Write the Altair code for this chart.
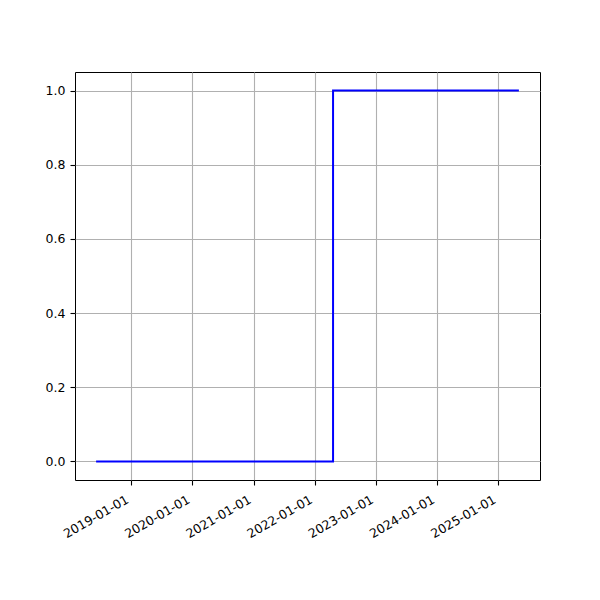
import altair as alt
import pandas as pd

dates = ["2018-06-06", "2022-04-20", "2025-05-03"]
values = [0, 1, 1]
tick_years = [2019, 2020, 2021, 2022, 2023, 2024, 2025]
y_ticks = [0.0, 0.2, 0.4, 0.6, 0.8, 1.0]

df = pd.DataFrame({"date": dates, "value": values})

x_domain = [alt.DateTime(year=2018, month=1, date=31, utc=True),
            alt.DateTime(year=2025, month=9, date=6, utc=True)]

chart = alt.Chart(df).mark_line(
    interpolate="step-after", color="#0000ff", strokeWidth=2
).encode(
    x=alt.X("date:T",
            scale=alt.Scale(type="utc", domain=x_domain, nice=False),
            axis=alt.Axis(
                values=[alt.DateTime(year=y, month=1, date=1, utc=True) for y in tick_years],
                labelExpr="utcFormat(datum.value, '%Y-%m-%d')",
                labelAngle=-30, labelAlign="right", labelBaseline="top",
                labelOverlap=False, labelBound=False, labelFlush=False,
                labelPadding=8, labelOffset=-7,
                title=None)),
    y=alt.Y("value:Q",
            scale=alt.Scale(domain=[-0.05, 1.05], nice=False, zero=False),
            axis=alt.Axis(values=y_ticks, format=".1f", title=None)),
).properties(
    width=465, height=408,
    autosize=alt.AutoSizeParams(type="none"),
    padding={"left": 67, "top": 64, "right": 52, "bottom": 112},
).configure_view(
    stroke="black", strokeWidth=1
).configure_axis(
    grid=True, gridColor="#b0b0b0", gridWidth=1.1,
    domain=False,
    tickColor="black", tickSize=5, tickWidth=1.1,
    labelColor="black", labelFont="DejaVu Sans", labelFontSize=12.5,
    labelPadding=5,
)

chart.save("out.html", embed_options={"renderer": "svg", "actions": False})
